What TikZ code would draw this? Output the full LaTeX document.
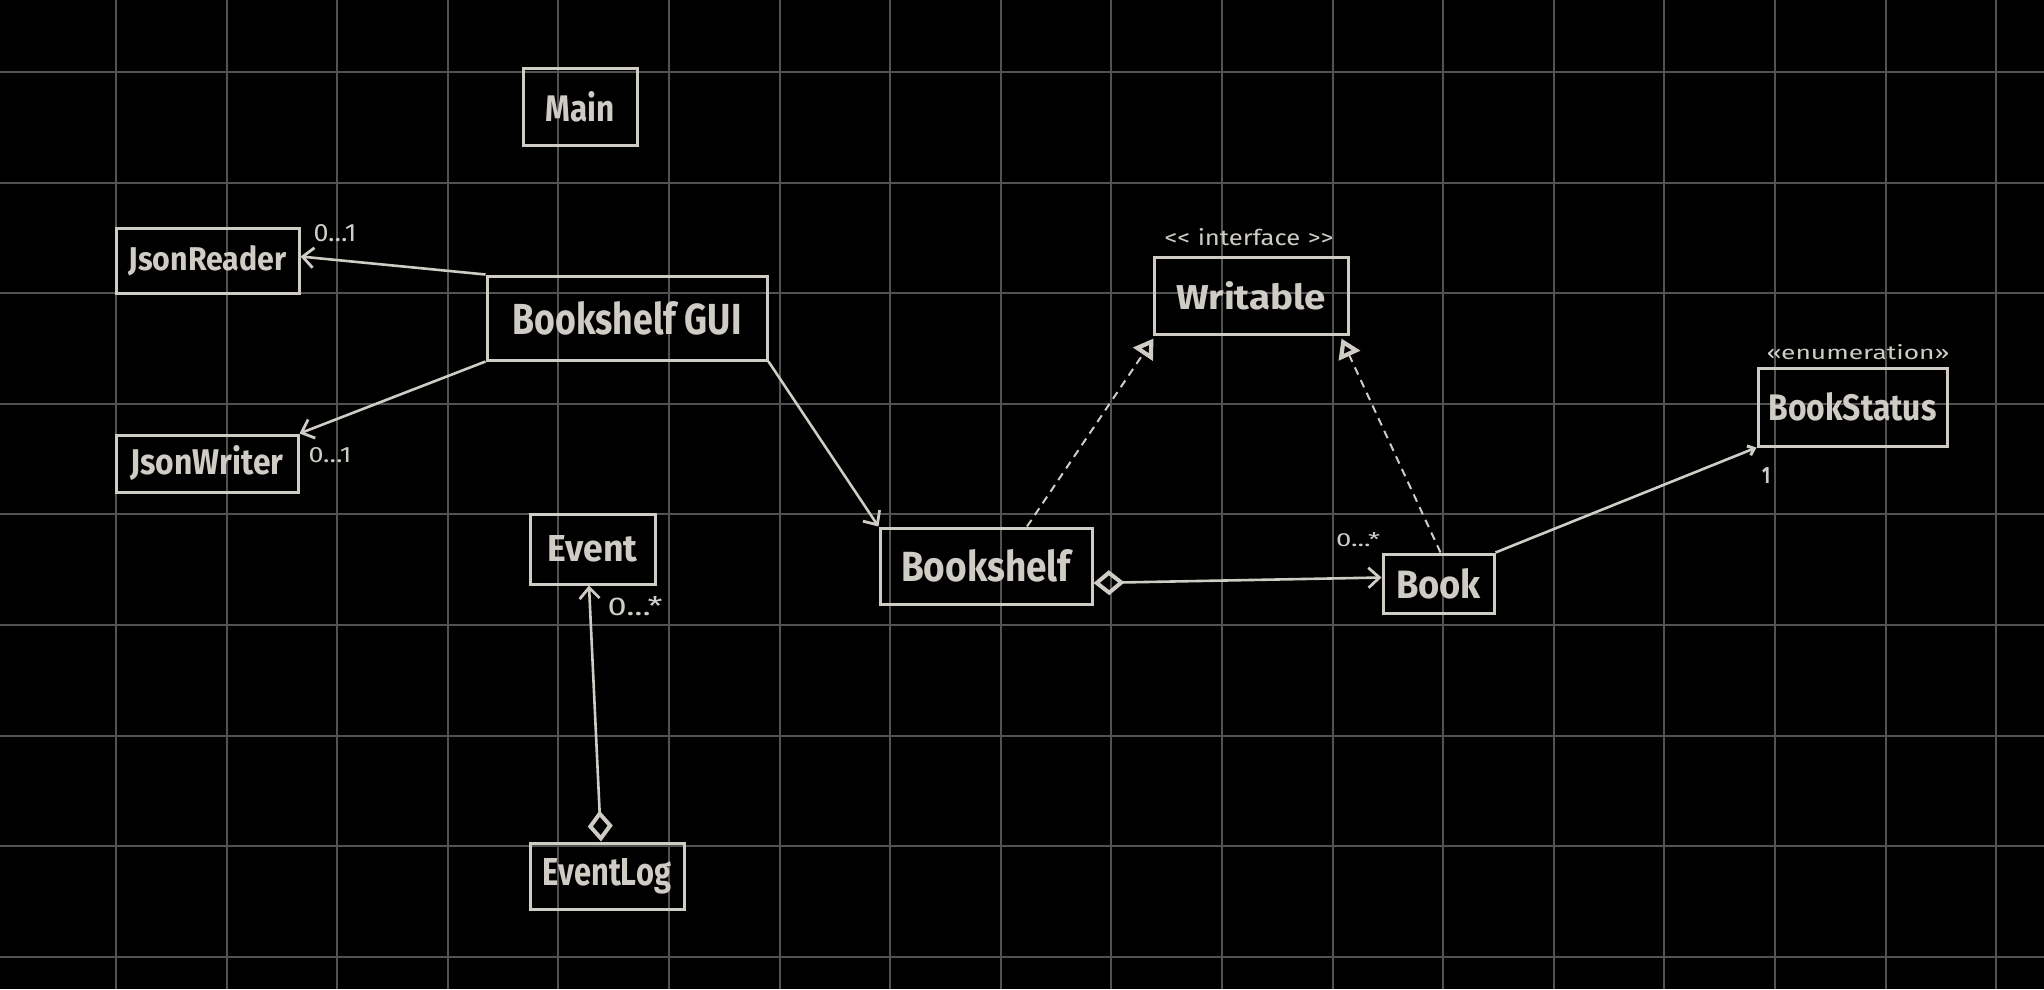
\documentclass[tikz,border=0pt]{standalone}
\usepackage{fontspec}
\usepackage{graphicx}
\setmainfont{Fira Sans}
\usetikzlibrary{arrows.meta}
\definecolor{ink}{HTML}{CFCCC5}
\definecolor{gridc}{HTML}{525252}
\newcommand{\rtxt}[3]{\resizebox{#1pt}{#2pt}{#3}}
\tikzset{
  umlbox/.style={draw=ink, line width=3pt, rectangle, inner sep=0pt, text=ink, font=\bfseries},
  lbl/.style={text=ink, inner sep=0pt, font=\normalfont},
  conn/.style={draw=ink, line width=2.6pt},
  realiz/.style={draw=ink, line width=2pt, dash pattern=on 8pt off 6pt},
  barb/.tip={Straight Barb[length=11pt, width=20pt, line width=2.8pt]},
  smallbarb/.tip={Straight Barb[length=6pt, width=10pt, line width=3pt]},
  hollowtri/.tip={Triangle[open, length=19pt, width=23pt, line width=4.2pt]},
  hollowdia/.tip={Diamond[open, length=31pt, width=25pt, line width=4pt]}
}
\begin{document}
\begin{tikzpicture}[x=1pt, y=-1pt]
\fill[black] (0,0) rectangle (2044,989);
\useasboundingbox (0,0) rectangle (2044,989);
% grid
\foreach \k in {0,...,17} {
  \draw[gridc, line width=2pt] ({116+110.6*\k},0) -- ({116+110.6*\k},989);
}
\foreach \k in {0,...,8} {
  \draw[gridc, line width=2pt] (0,{72+110.6*\k}) -- (2044,{72+110.6*\k});
}
% boxes
\node[umlbox, minimum width=114pt, minimum height=77pt] (main) at (580,106.5) {\rtxt{69}{30}{Main}};
\node[umlbox, minimum width=183pt, minimum height=65pt] (jr) at (207.5,260.5) {\rtxt{158}{25}{JsonReader}};
\node[umlbox, minimum width=280pt, minimum height=84pt] (gui) at (627,318) {\rtxt{229}{33}{Bookshelf GUI}};
\node[umlbox, minimum width=182pt, minimum height=57pt] (jw) at (207,463.5) {\rtxt{153}{29}{JsonWriter}};
\node[umlbox, minimum width=125pt, minimum height=70pt] (ev) at (592.5,549) {\rtxt{90}{26}{Event}};
\node[umlbox, minimum width=154pt, minimum height=66pt] (el) at (607,876) {\rtxt{128}{27}{EventLog}};
\node[umlbox, minimum width=212pt, minimum height=76pt] (bs) at (986,566) {\rtxt{170}{32}{Bookshelf}};
\node[umlbox, minimum width=194pt, minimum height=77pt] (wr) at (1251,295.5) {\rtxt{150}{28}{Writable}};
\node[umlbox, minimum width=111pt, minimum height=59pt] (book) at (1438.5,583.5) {\rtxt{85}{30}{Book}};
\node[umlbox, minimum width=189pt, minimum height=78pt] (bst) at (1852.5,407) {\rtxt{168}{28}{BookStatus}};
% stereotypes
\node[lbl] (stwr) at (1249,237) {\rtxt{169}{17}{\textless\kern0pt\textless\kern3pt interface\kern3pt\textgreater\kern0pt\textgreater}};
\node[lbl] (stbst) at (1858,352) {\rtxt{183}{15}{\textless\textless enumeration\textgreater\textgreater}};
% multiplicities
\node[lbl] (mjr) at (335,233) {\rtxt{43}{17}{0...1}};
\node[lbl] (mjw) at (330,455) {\rtxt{43}{15}{0...1}};
\node[lbl] (mev) at (635,606) {\rtxt{55}{19}{0...*}};
\node[lbl] (mbook) at (1358,540) {\rtxt{44}{14}{0...*}};
\node[lbl, font=\bfseries] (mbst) at (1766,475) {\rtxt{8}{16}{1}};
% connectors
\draw[conn, -barb] (gui.north west) -- ([yshift=4pt]jr.east);
\draw[conn, -barb] (gui.south west) -- (jw.north east);
\draw[conn, -barb] (gui.south east) -- (bs.north west);
\draw[realiz, -hollowtri] ([xshift=41pt]bs.north) -- ([xshift=1pt,yshift=-3pt]wr.south west);
\draw[realiz, -hollowtri] ([xshift=2pt]book.north) -- ([xshift=-8pt,yshift=-3pt]wr.south east);
\draw[conn, hollowdia-barb] ([yshift=-17pt]bs.east) -- ([yshift=6pt]book.west);
\draw[conn, -smallbarb] (book.north east) -- (bst.south west);
\draw[conn, hollowdia-barb] ([xshift=-6pt]el.north) -- ([xshift=-3.5pt]ev.south);
\end{tikzpicture}
\end{document}
